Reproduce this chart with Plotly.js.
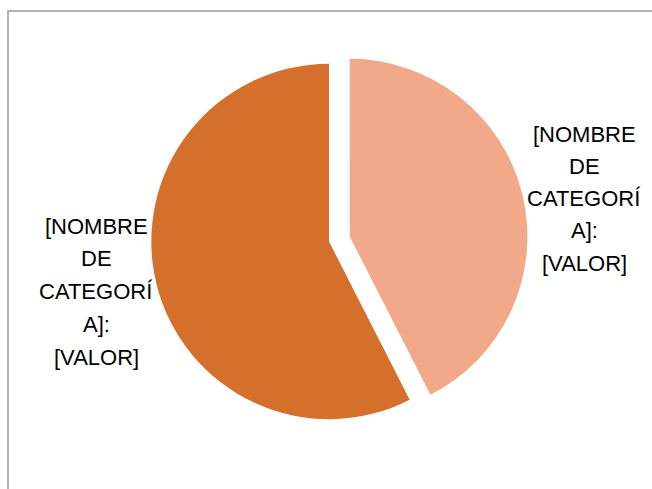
<!DOCTYPE html>
<html>
<head>
<meta charset="utf-8">
<script src="https://cdn.plot.ly/plotly-3.0.1.min.js"></script>
<style>html,body{margin:0;padding:0;background:#fff;}#chart{width:652px;height:489px;}</style>
</head>
<body>
<div id="chart"></div>
<script>
var categories = ["[NOMBRE DE CATEGORÍA] 1", "[NOMBRE DE CATEGORÍA] 2"];
var values = [42.5, 57.5];
var labelLines = ["[NOMBRE", "DE", "CATEGORÍ", "A]:", "[VALOR]"];
var colors = ["#F2A98A", "#D4702C"];

var W = 652, H = 489;
var trace = {
  type: "pie",
  labels: categories,
  values: values,
  textinfo: "none",
  hoverinfo: "none",
  sort: false,
  direction: "clockwise",
  rotation: 0,
  pull: [0.12, 0],
  marker: {colors: colors, line: {width: 0}},
  domain: {x: [130 / W, 528 / W], y: [48.5 / H, 446.5 / H]},
  automargin: false
};

// label block placement (pixel centres of each block: x, first-line y, line step)
var blocks = [{x: 584, y0: 135, step: 32}, {x: 96, y0: 226, step: 32.8}];
var annotations = [];
blocks.forEach(function (b) {
  labelLines.forEach(function (ln, i) {
    annotations.push({
      xref: "paper", yref: "paper",
      x: b.x / W, y: 1 - (b.y0 + i * b.step) / H,
      xanchor: "center", yanchor: "middle",
      text: ln, showarrow: false,
      font: {family: "Liberation Sans, Arial, sans-serif", size: 22, color: "#000"}
    });
  });
});

var layout = {
  width: W, height: H,
  margin: {l: 0, r: 0, t: 0, b: 0},
  showlegend: false,
  paper_bgcolor: "#fff",
  annotations: annotations,
  shapes: [{type: "rect", xref: "paper", yref: "paper", x0: 8 / W, y0: 1 - 11 / H, x1: 1.2, y1: -0.2,
            line: {color: "#9a9a9a", width: 1.5}, fillcolor: "rgba(0,0,0,0)"}]
};
Plotly.newPlot("chart", [trace], layout, {staticPlot: true});
</script>
</body>
</html>
